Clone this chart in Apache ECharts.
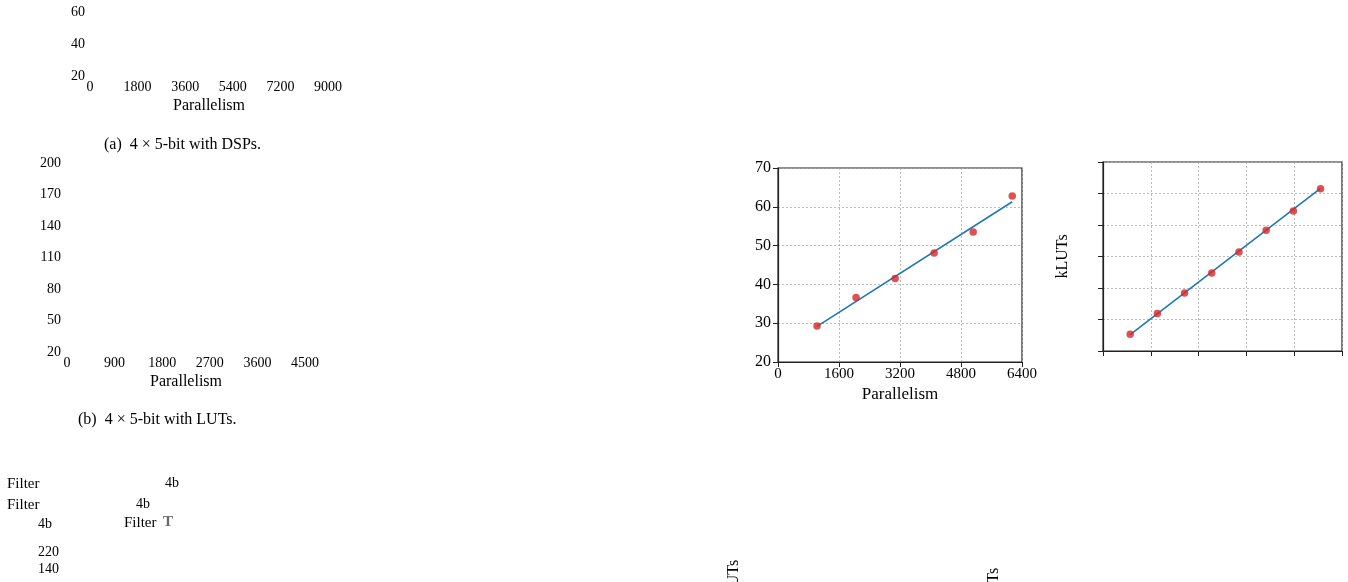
<!DOCTYPE html>
<html>
    <head>
        <meta charset="utf-8" />
        <script src="https://cdn.jsdelivr.net/npm/echarts@6/dist/echarts.min.js"></script>
    </head>
    <body>
        <style>
            html, body, #main {
                width: 100%;
                padding: 0;
                margin: 0;
                height: 100%;
                background: #fff;
            }
        </style>
        <div id="main"></div>
        <script>
            var FONT = '"Liberation Serif", "DejaVu Serif", serif';

            // (c) DSP chart, middle right
            var dspX = [1024, 2048, 3072, 4096, 5120, 6144];
            var dspY = [29.3, 36.6, 41.5, 48.1, 53.5, 62.8];
            var dspFitX = [1024, 6144];
            var dspFitY = [29.2, 61.3];

            // (d) LUT chart, far right (tick labels not rendered)
            var lutX = [512, 1024, 1536, 2048, 2560, 3072, 3584, 4096];
            var lutY = [35.9, 55.6, 75.2, 94.3, 114.3, 134.9, 153.3, 174.6];
            var lutFitX = [512, 4096];
            var lutFitY = [35.6, 174.8];

            // ghost axes on the left (only labels survived)
            var ghostA = { xMax: 9000, xStep: 1800, yMin: 20, yMax: 60, yStep: 20 };
            var ghostB = { xMax: 4500, xStep: 900, yMin: 20, yMax: 200, yStep: 30 };

            function pairs(xs, ys) {
                return xs.map(function (x, i) { return [x, ys[i]]; });
            }
            function plain(v) { return String(v); }

            var chart = echarts.init(document.getElementById('main'));

            var hidden = { show: false };
            function ghostX(idx, cfg) {
                return {
                    type: 'value', gridIndex: idx, min: 0, max: cfg.xMax, interval: cfg.xStep,
                    axisLine: hidden, axisTick: hidden, splitLine: hidden,
                    axisLabel: { color: '#000', fontFamily: FONT, fontSize: 14, margin: 4, formatter: plain },
                    name: 'Parallelism', nameLocation: 'middle', nameGap: 22,
                    nameTextStyle: { color: '#000', fontFamily: FONT, fontSize: 16 }
                };
            }
            function ghostY(idx, cfg, margin) {
                return {
                    type: 'value', gridIndex: idx, min: cfg.yMin, max: cfg.yMax, interval: cfg.yStep,
                    axisLine: hidden, axisTick: hidden, splitLine: hidden,
                    axisLabel: { color: '#000', fontFamily: FONT, fontSize: 14, margin: margin, formatter: plain }
                };
            }
            var grid = { lineStyle: { color: '#aaa', type: [2, 2], width: 0.8 } };
            var blackLine = { show: true, lineStyle: { color: '#222', width: 1.2 } };
            var tick = { show: true, length: 5, lineStyle: { color: '#222' } };

            chart.setOption({
                animation: false,
                grid: [
                    { left: 90, top: 12, width: 238, height: 64 },
                    { left: 67, top: 163, width: 238, height: 189 },
                    { left: 778, top: 168, width: 244, height: 194, show: true, borderColor: '#222', borderWidth: 1.2 },
                    { left: 1103, top: 162, width: 239, height: 189, show: true, borderColor: '#222', borderWidth: 1.2 }
                ],
                xAxis: [
                    ghostX(0, ghostA),
                    ghostX(1, ghostB),
                    {
                        type: 'value', gridIndex: 2, min: 0, max: 6400, interval: 1600,
                        axisLine: blackLine, axisTick: tick, splitLine: grid,
                        axisLabel: { color: '#000', fontFamily: FONT, fontSize: 15, margin: 5, formatter: plain },
                        name: 'Parallelism', nameLocation: 'middle', nameGap: 24,
                        nameTextStyle: { color: '#000', fontFamily: FONT, fontSize: 17 }
                    },
                    {
                        type: 'value', gridIndex: 3, min: 0, max: 4500, interval: 900,
                        axisLine: blackLine, axisTick: tick, splitLine: grid,
                        axisLabel: { show: false }
                    }
                ],
                yAxis: [
                    ghostY(0, ghostA, 5),
                    ghostY(1, ghostB, 6),
                    {
                        type: 'value', gridIndex: 2, min: 20, max: 70, interval: 10,
                        axisLine: blackLine, axisTick: tick, splitLine: grid,
                        axisLabel: { color: '#000', fontFamily: FONT, fontSize: 16, margin: 7, formatter: plain }
                    },
                    {
                        type: 'value', gridIndex: 3, min: 20, max: 200, interval: 30,
                        axisLine: blackLine, axisTick: tick, splitLine: grid,
                        axisLabel: { show: false },
                        name: 'kLUTs', nameLocation: 'middle', nameGap: 32, nameRotate: 90,
                        nameTextStyle: { color: '#000', fontFamily: FONT, fontSize: 16 }
                    }
                ],
                series: [
                    {
                        type: 'line', xAxisIndex: 2, yAxisIndex: 2, data: pairs(dspFitX, dspFitY),
                        showSymbol: false, lineStyle: { color: '#1f77b4', width: 1.6 }, z: 2
                    },
                    {
                        type: 'scatter', xAxisIndex: 2, yAxisIndex: 2, data: pairs(dspX, dspY),
                        symbolSize: 7.5, itemStyle: { color: '#d62728' }, z: 3
                    },
                    {
                        type: 'line', xAxisIndex: 3, yAxisIndex: 3, data: pairs(lutFitX, lutFitY),
                        showSymbol: false, lineStyle: { color: '#1f77b4', width: 1.6 }, z: 2
                    },
                    {
                        type: 'scatter', xAxisIndex: 3, yAxisIndex: 3, data: pairs(lutX, lutY),
                        symbolSize: 7.5, itemStyle: { color: '#d62728' }, z: 3
                    }
                ],
                graphic: [
                    { type: 'text', left: 104, top: 137, style: { text: '(a)  4 \u00d7 5-bit with DSPs.', font: '16px ' + FONT, fill: '#000' } },
                    { type: 'text', left: 78, top: 412, style: { text: '(b)  4 \u00d7 5-bit with LUTs.', font: '16px ' + FONT, fill: '#000' } },
                    { type: 'text', left: 7, top: 477, style: { text: 'Filter', font: '15px ' + FONT, fill: '#000' } },
                    { type: 'text', left: 165, top: 476, style: { text: '4b', font: '14px ' + FONT, fill: '#000' } },
                    { type: 'text', left: 7, top: 498, style: { text: 'Filter', font: '15px ' + FONT, fill: '#000' } },
                    { type: 'text', left: 136, top: 497, style: { text: '4b', font: '14px ' + FONT, fill: '#000' } },
                    { type: 'text', left: 38, top: 517, style: { text: '4b', font: '14px ' + FONT, fill: '#000' } },
                    { type: 'text', left: 124, top: 516, style: { text: 'Filter', font: '15px ' + FONT, fill: '#000' } },
                    { type: 'text', left: 163, top: 515, style: { text: 'T', font: 'bold 15px ' + FONT, fill: '#444', opacity: 0.8 } },
                    { type: 'text', left: 38, top: 545, style: { text: '220', font: '14px ' + FONT, fill: '#000' } },
                    { type: 'text', left: 38, top: 562, style: { text: '140', font: '14px ' + FONT, fill: '#000' } },
                    { type: 'text', x: 734, y: 604, rotation: Math.PI / 2, style: { text: 'kLUTs', font: '16px ' + FONT, fill: '#000', textAlign: 'left', textVerticalAlign: 'middle' } },
                    { type: 'text', x: 994, y: 612, rotation: Math.PI / 2, style: { text: 'kLUTs', font: '16px ' + FONT, fill: '#000', textAlign: 'left', textVerticalAlign: 'middle' } }
                ]
            });
        </script>
    </body>
</html>
